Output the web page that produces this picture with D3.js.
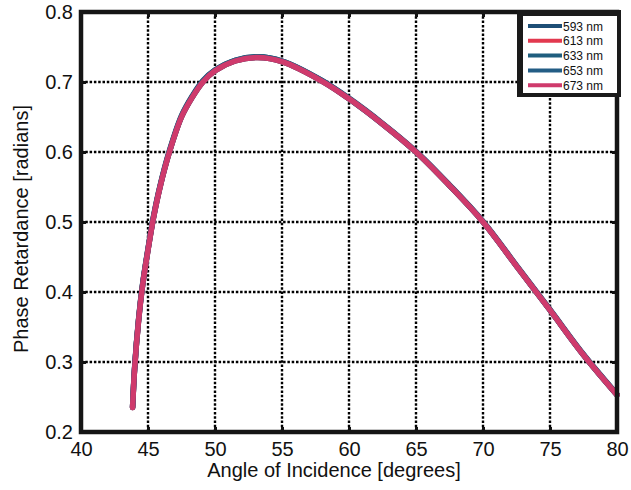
<!DOCTYPE html>
<html>
<head>
<meta charset="utf-8">
<script src="https://cdn.jsdelivr.net/npm/d3@7"></script>
<style>
  body { margin: 0; background: #fff; }
  text { font-family: "Liberation Sans", Arial, sans-serif; fill: #111; }
</style>
</head>
<body>
<div id="chart"></div>
<script>
const angles = [43.85, 44.0, 44.3, 44.6, 45.0, 45.4, 45.9, 46.6, 47.5, 48.3, 49.1, 50.0, 51.5, 53.2, 55.0,
                58.0, 60.0, 62.5, 65.0, 67.5, 70.0, 72.5, 75.0, 77.5, 80.0];

const r593 = [0.236, 0.292, 0.362, 0.412, 0.462, 0.507, 0.552, 0.602, 0.652, 0.680, 0.702, 0.717, 0.731, 0.736, 0.730,
              0.702, 0.677, 0.641, 0.601, 0.553, 0.501, 0.438, 0.375, 0.311, 0.254];
const r613 = [0.235, 0.290, 0.360, 0.410, 0.460, 0.505, 0.550, 0.600, 0.650, 0.678, 0.700, 0.716, 0.730, 0.735, 0.729,
              0.701, 0.676, 0.640, 0.600, 0.552, 0.500, 0.437, 0.374, 0.310, 0.253];
const r633 = [0.236, 0.291, 0.361, 0.411, 0.461, 0.506, 0.551, 0.601, 0.651, 0.679, 0.701, 0.717, 0.731, 0.736, 0.730,
              0.702, 0.676, 0.640, 0.600, 0.552, 0.500, 0.437, 0.374, 0.310, 0.253];
const r653 = [0.235, 0.290, 0.360, 0.410, 0.460, 0.505, 0.550, 0.600, 0.650, 0.678, 0.700, 0.716, 0.730, 0.735, 0.729,
              0.701, 0.676, 0.640, 0.600, 0.552, 0.500, 0.437, 0.374, 0.310, 0.253];
const r673 = [0.235, 0.290, 0.360, 0.410, 0.460, 0.505, 0.550, 0.600, 0.650, 0.678, 0.700, 0.716, 0.730, 0.735, 0.729,
              0.701, 0.676, 0.640, 0.600, 0.552, 0.500, 0.437, 0.374, 0.310, 0.253];

const seriesNames = ["593 nm", "613 nm", "633 nm", "653 nm", "673 nm"];
const seriesValues = [r593, r613, r633, r653, r673];
const colours = ["#1d4e76", "#e2394f", "#1f5e7e", "#235d85", "#cf3a6c"];

const xTicks = [40, 45, 50, 55, 60, 65, 70, 75, 80];
const yTicks = [0.2, 0.3, 0.4, 0.5, 0.6, 0.7, 0.8];

const width = 631;
const height = 490;
const margin = { top: 12, right: 14, bottom: 58, left: 81 };
const plotW = width - margin.left - margin.right;
const plotH = height - margin.top - margin.bottom;

const svg = d3.select("#chart").append("svg")
    .attr("width", width)
    .attr("height", height);

svg.append("rect").attr("width", width).attr("height", height).attr("fill", "#fff");

const g = svg.append("g").attr("transform", `translate(${margin.left}, ${margin.top})`);

const x = d3.scaleLinear().domain([40, 80]).range([0, plotW]);
const y = d3.scaleLinear().domain([0.2, 0.8]).range([plotH, 0]);

// dotted grid
const grid = g.append("g").attr("id", "grid")
    .attr("stroke", "#000").attr("stroke-width", 2.4).attr("stroke-dasharray", "2.5,1.8");
grid.selectAll("line.vx").data(xTicks.slice(1, -1)).enter().append("line")
    .attr("x1", d => x(d)).attr("x2", d => x(d)).attr("y1", 0).attr("y2", plotH);
grid.selectAll("line.hy").data(yTicks.slice(1, -1)).enter().append("line")
    .attr("x1", 0).attr("x2", plotW).attr("y1", d => y(d)).attr("y2", d => y(d));

// curves, 673 nm drawn last so it sits on top
const line = d3.line()
    .x(d => x(d[0]))
    .y(d => y(d[1]))
    .curve(d3.curveCatmullRom.alpha(0.5));

seriesValues.forEach((vals, i) => {
    g.append("path")
        .datum(angles.map((a, j) => [a, vals[j]]))
        .attr("fill", "none")
        .attr("stroke", colours[i])
        .attr("stroke-width", 5.5)
        .attr("stroke-linecap", "round")
        .attr("d", line);
});

// axes with inward ticks
const xAxis = d3.axisBottom(x).tickValues(xTicks).tickFormat(d3.format("d"))
    .tickSizeInner(-5).tickSizeOuter(0).tickPadding(10);
const yAxis = d3.axisLeft(y).tickValues(yTicks).tickFormat(d3.format(".1f"))
    .tickSizeInner(-5).tickSizeOuter(0).tickPadding(8);

const xg = g.append("g").attr("transform", `translate(0, ${plotH})`).call(xAxis);
const yg = g.append("g").call(yAxis);
g.append("g").call(d3.axisTop(x).tickValues(xTicks).tickSizeInner(-5).tickSizeOuter(0).tickFormat(""));
g.append("g").attr("transform", `translate(${plotW}, 0)`)
    .call(d3.axisRight(y).tickValues(yTicks).tickSizeInner(-5).tickSizeOuter(0).tickFormat(""));

g.selectAll(".domain").remove();
g.selectAll(".tick line").attr("stroke", "#111").attr("stroke-width", 3);
xg.selectAll("text").style("font-size", "20px").attr("fill", "#111");
yg.selectAll("text").style("font-size", "20px").attr("fill", "#111");

// frame
g.append("rect")
    .attr("width", plotW).attr("height", plotH)
    .attr("fill", "none").attr("stroke", "#151515").attr("stroke-width", 4.5);

// axis titles
svg.append("text")
    .attr("x", margin.left + plotW / 2 - 15).attr("y", 477)
    .attr("text-anchor", "middle").style("font-size", "20px")
    .text("Angle of Incidence [degrees]");
svg.append("text")
    .attr("transform", `translate(28, ${229}) rotate(-90)`)
    .attr("text-anchor", "middle").style("font-size", "20px")
    .text("Phase Retardance [radians]");

// legend
const legend = svg.append("g").attr("id", "legend");
legend.append("rect").attr("x", 517).attr("y", 10).attr("width", 104).attr("height", 87).attr("fill", "#1a1a1a");
legend.append("rect").attr("x", 523).attr("y", 16).attr("width", 94).attr("height", 77).attr("fill", "#fff");
const rows = legend.selectAll("g.row").data(seriesNames).enter().append("g")
    .attr("transform", (d, i) => `translate(0, ${26 + i * 14.8})`);
rows.append("line")
    .attr("x1", 528).attr("x2", 562).attr("y1", 0).attr("y2", 0)
    .attr("stroke", (d, i) => colours[i]).attr("stroke-width", 4);
rows.append("text")
    .attr("x", 563).attr("y", 4.5)
    .style("font-size", "12px").attr("fill", "#222")
    .text(d => d);
</script>
</body>
</html>
